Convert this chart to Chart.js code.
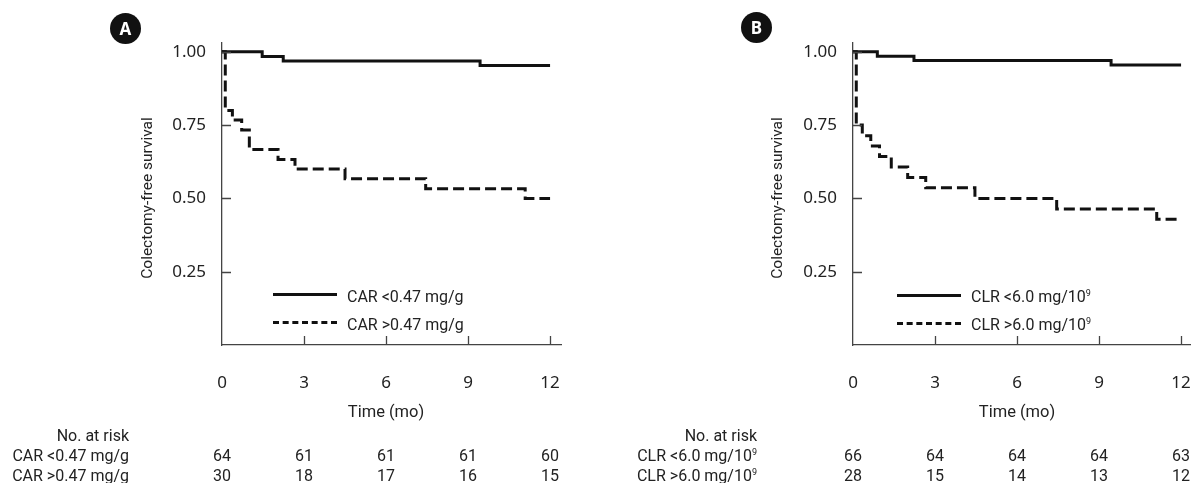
<!DOCTYPE html>
<html>
<head>
<meta charset="utf-8">
<script src="https://cdn.jsdelivr.net/npm/chart.js@4.4.1/dist/chart.umd.min.js"></script>
<style>
  html, body { margin:0; padding:0; background:#fff; }
  body { width:1191px; height:483px; position:relative; overflow:hidden; font-family:Roboto, "Noto Sans", sans-serif; color:#222; }
  canvas { position:absolute; top:0; }
  .badge { position:absolute; width:31px; height:31px; border-radius:50%; background:#111; color:#fff;
           font:bold 17px "Noto Sans", sans-serif; text-align:center; line-height:31px; }
  .ytitle { position:absolute; font-size:15.5px; transform:translate(-50%,-50%) rotate(-90deg); white-space:nowrap; }
  .xtitle { position:absolute; font-size:16.5px; transform:translate(-50%,-50%); white-space:nowrap; }
  .lg { position:absolute; font-size:16px; white-space:nowrap; transform:translateY(-50%); }
  .lg-line { position:absolute; width:64px; height:0; }
  .risk { position:absolute; font-size:16px; transform:translate(-50%,-50%); white-space:nowrap; }
  .rlab { position:absolute; font-size:16px; transform:translate(-100%,-50%); white-space:nowrap; text-align:right; }
  sup { font-size:9px; vertical-align:6px; line-height:0; }
</style>
</head>
<body>
<canvas id="chartA" width="600" height="483" style="left:0"></canvas>
<canvas id="chartB" width="625" height="483" style="left:600px"></canvas>

<div class="badge" style="left:110px;top:13px">A</div>
<div class="badge" style="left:741px;top:12px">B</div>

<div class="ytitle" style="left:147px;top:198px">Colectomy-free survival</div>
<div class="ytitle" style="left:777px;top:198px">Colectomy-free survival</div>

<!-- legends -->
<div class="lg-line" style="left:273px;top:293px;border-top:3px solid #111"></div>
<div class="lg" style="left:347px;top:296px">CAR &lt;0.47 mg/g</div>
<div class="lg-line" style="left:273px;top:321px;border-top:3px dashed #111"></div>
<div class="lg" style="left:347px;top:324px">CAR &gt;0.47 mg/g</div>

<div class="lg-line" style="left:897px;top:294px;border-top:3px solid #111"></div>
<div class="lg" style="left:971px;top:296px">CLR &lt;6.0 mg/10<sup>9</sup></div>
<div class="lg-line" style="left:897px;top:322px;border-top:3px dashed #111"></div>
<div class="lg" style="left:971px;top:324px">CLR &gt;6.0 mg/10<sup>9</sup></div>

<div id="overlay"></div>

<script>
/* ---- data ---- */
const TIME_TICKS = [0, 3, 6, 9, 12];
const SURV_TICKS = [0.25, 0.5, 0.75, 1.0];

// Panel A: CAR
const A_LOW_T  = [0, 1.47, 2.24, 9.44, 12];
const A_LOW_S  = [1, 0.984, 0.969, 0.953, 0.953];
const A_HIGH_T = [0, 0.12, 0.38, 0.72, 1.0, 2.05, 2.67, 4.5, 7.45, 11.09, 12];
const A_HIGH_S = [1, 0.8, 0.767, 0.733, 0.667, 0.633, 0.6, 0.567, 0.533, 0.5, 0.5];
const A_RISK_LOW  = [64, 61, 61, 61, 60];
const A_RISK_HIGH = [30, 18, 17, 16, 15];

// Panel B: CLR
const B_LOW_T  = [0, 0.89, 2.23, 9.44, 12];
const B_LOW_S  = [1, 0.985, 0.97, 0.955, 0.955];
const B_HIGH_T = [0, 0.12, 0.34, 0.65, 0.97, 1.4, 2.0, 2.66, 4.46, 7.45, 11.11, 12];
const B_HIGH_S = [1, 0.75, 0.714, 0.679, 0.643, 0.607, 0.571, 0.536, 0.5, 0.464, 0.429, 0.429];
const B_RISK_LOW  = [66, 64, 64, 64, 63];
const B_RISK_HIGH = [28, 15, 14, 13, 12];

const INK = "#111";
const AXIS = "#444";

function pts(t, s) { return t.map((x, i) => ({ x: x, y: s[i] })); }

/* ticks pointing inward */
const innerTicks = {
  id: "innerTicks",
  afterDraw(chart) {
    const c = chart.ctx, x = chart.scales.x, y = chart.scales.y;
    c.save();
    c.strokeStyle = AXIS; c.lineWidth = 1.3;
    c.beginPath();
    x.ticks.forEach(t => {
      if (t.value === 0) return;
      const px = Math.round(x.getPixelForValue(t.value)) + 0.5;
      c.moveTo(px, y.bottom); c.lineTo(px, y.bottom - 9);
    });
    y.ticks.forEach(t => {
      const py = Math.round(y.getPixelForValue(t.value)) + 0.5;
      c.moveTo(x.left, py); c.lineTo(x.left + 9, py);
    });
    c.stroke();
    c.restore();
  }
};

function makePanel(id, yWidth, padRight, low, high) {
  return new Chart(document.getElementById(id), {
    type: "line",
    data: {
      datasets: [
        { data: low,  borderColor: INK, borderWidth: 3, stepped: true, pointRadius: 0, fill: false },
        { data: high, borderColor: INK, borderWidth: 3, borderDash: [11, 5], stepped: true, pointRadius: 0, fill: false }
      ]
    },
    options: {
      responsive: false,
      animation: false,
      layout: { padding: { top: 43, right: padRight, left: 0, bottom: 0 } },
      plugins: { legend: { display: false }, tooltip: { enabled: false } },
      scales: {
        x: {
          type: "linear", min: 0, max: 12.4,
          afterBuildTicks: s => { s.ticks = TIME_TICKS.map(v => ({ value: v })); },
          afterFit: s => { s.height = 138; },
          grid: { display: false, drawTicks: false },
          border: { display: true, color: AXIS, width: 1.3 },
          ticks: { padding: 28, color: "#222", font: { family: "Noto Sans", size: 17 } }
        },
        y: {
          type: "linear", min: 0, max: 1.03,
          afterBuildTicks: s => { s.ticks = SURV_TICKS.map(v => ({ value: v })); },
          afterFit: s => { s.width = yWidth; },
          grid: { display: false, drawTicks: false },
          border: { display: true, color: AXIS, width: 1.3 },
          ticks: { padding: 16, color: "#222", font: { family: "Noto Sans", size: 17 },
                   callback: v => v.toFixed(2) }
        }
      }
    },
    plugins: [innerTicks]
  });
}

const chartA = makePanel("chartA", 222, 39, pts(A_LOW_T, A_LOW_S), pts(A_HIGH_T, A_HIGH_S));
const chartB = makePanel("chartB", 253, 33, pts(B_LOW_T, B_LOW_S), pts(B_HIGH_T, B_HIGH_S));

/* titles + risk table placed from the x scale */
function addText(cls, x, y, html) {
  const d = document.createElement("div");
  d.className = cls;
  d.style.left = x + "px";
  d.style.top = y + "px";
  d.innerHTML = html;
  document.getElementById("overlay").appendChild(d);
}

function riskTable(chart, offset, labRight, labLow, labHigh, riskLow, riskHigh) {
  const xs = chart.scales.x;
  addText("xtitle", offset + xs.getPixelForValue(6), 411, "Time (mo)");
  addText("rlab", labRight, 435, "No. at risk");
  addText("rlab", labRight, 455, labLow);
  addText("rlab", labRight, 475, labHigh);
  TIME_TICKS.forEach((t, i) => {
    const px = offset + xs.getPixelForValue(t);
    addText("risk", px, 455, riskLow[i]);
    addText("risk", px, 475, riskHigh[i]);
  });
}

riskTable(chartA, 0, 129, "CAR &lt;0.47 mg/g", "CAR &gt;0.47 mg/g", A_RISK_LOW, A_RISK_HIGH);
riskTable(chartB, 600, 757, "CLR &lt;6.0 mg/10<sup>9</sup>", "CLR &gt;6.0 mg/10<sup>9</sup>", B_RISK_LOW, B_RISK_HIGH);
</script>
</body>
</html>
